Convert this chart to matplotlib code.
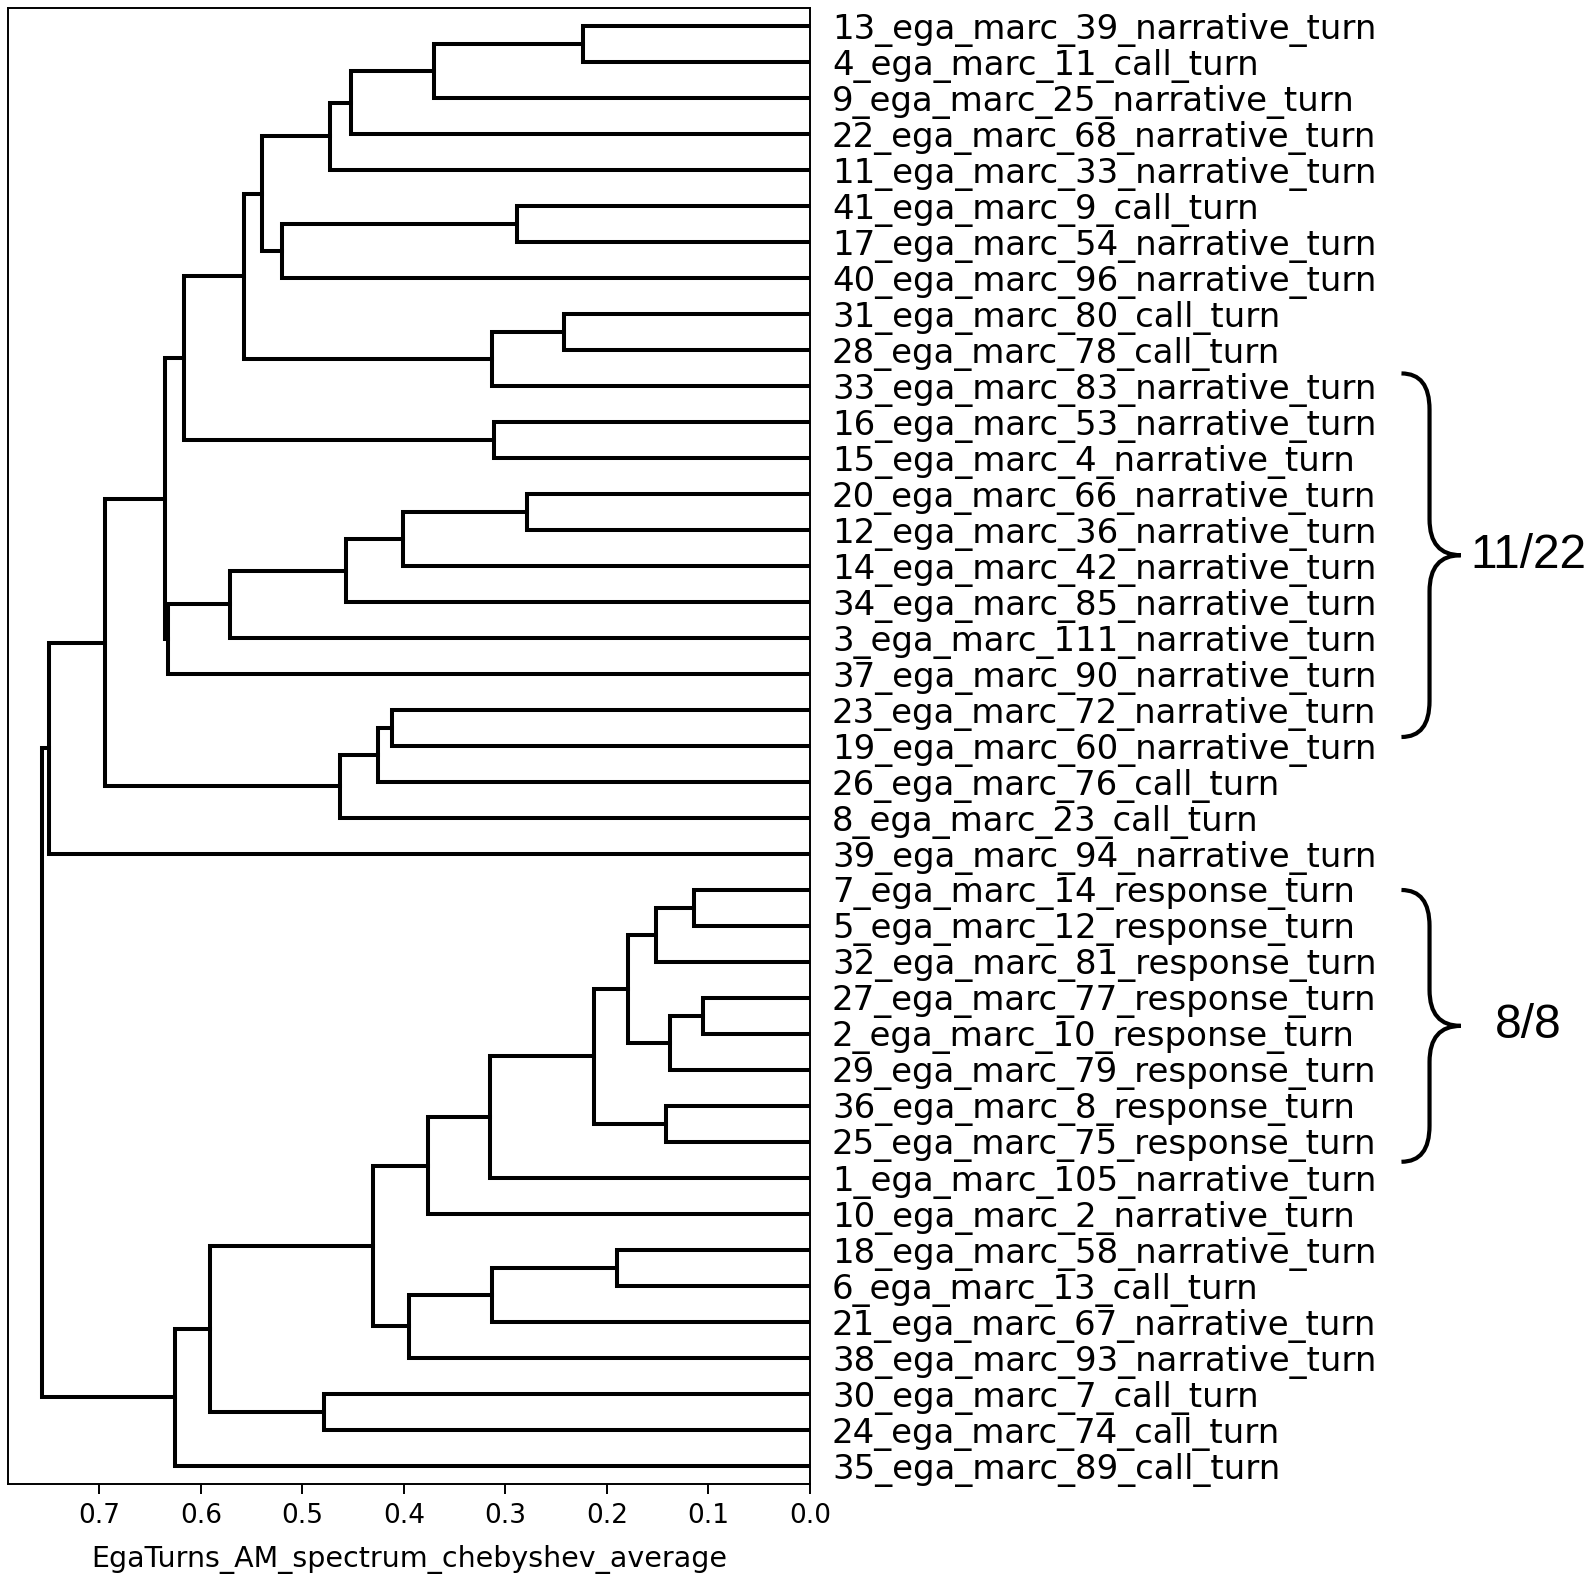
import numpy as np
import matplotlib.pyplot as plt
import matplotlib.transforms as mtransforms
from matplotlib.path import Path
from matplotlib.patches import PathPatch

# leaf labels, top to bottom
labels = [
    '13_ega_marc_39_narrative_turn', '4_ega_marc_11_call_turn',
    '9_ega_marc_25_narrative_turn', '22_ega_marc_68_narrative_turn',
    '11_ega_marc_33_narrative_turn', '41_ega_marc_9_call_turn',
    '17_ega_marc_54_narrative_turn', '40_ega_marc_96_narrative_turn',
    '31_ega_marc_80_call_turn', '28_ega_marc_78_call_turn',
    '33_ega_marc_83_narrative_turn', '16_ega_marc_53_narrative_turn',
    '15_ega_marc_4_narrative_turn', '20_ega_marc_66_narrative_turn',
    '12_ega_marc_36_narrative_turn', '14_ega_marc_42_narrative_turn',
    '34_ega_marc_85_narrative_turn', '3_ega_marc_111_narrative_turn',
    '37_ega_marc_90_narrative_turn', '23_ega_marc_72_narrative_turn',
    '19_ega_marc_60_narrative_turn', '26_ega_marc_76_call_turn',
    '8_ega_marc_23_call_turn', '39_ega_marc_94_narrative_turn',
    '7_ega_marc_14_response_turn', '5_ega_marc_12_response_turn',
    '32_ega_marc_81_response_turn', '27_ega_marc_77_response_turn',
    '2_ega_marc_10_response_turn', '29_ega_marc_79_response_turn',
    '36_ega_marc_8_response_turn', '25_ega_marc_75_response_turn',
    '1_ega_marc_105_narrative_turn', '10_ega_marc_2_narrative_turn',
    '18_ega_marc_58_narrative_turn', '6_ega_marc_13_call_turn',
    '21_ega_marc_67_narrative_turn', '38_ega_marc_93_narrative_turn',
    '30_ega_marc_7_call_turn', '24_ega_marc_74_call_turn',
    '35_ega_marc_89_call_turn',
]

# merges (a, b, distance): ids < 41 are leaves in the order above,
# merge k creates node 41 + k
merges = [
    (0, 1, 0.223), (41, 2, 0.370), (42, 3, 0.452), (43, 4, 0.473),
    (5, 6, 0.288), (45, 7, 0.520), (44, 46, 0.540),
    (8, 9, 0.242), (48, 10, 0.313), (47, 49, 0.557),
    (11, 12, 0.311), (50, 51, 0.617),
    (13, 14, 0.279), (53, 15, 0.401), (54, 16, 0.457), (55, 17, 0.571),
    (56, 18, 0.632), (52, 57, 0.635),
    (19, 20, 0.412), (59, 21, 0.425), (60, 22, 0.463),
    (58, 61, 0.694), (62, 23, 0.750),
    (24, 25, 0.114), (64, 26, 0.151), (27, 28, 0.105), (66, 29, 0.138),
    (65, 67, 0.179), (30, 31, 0.142), (68, 69, 0.213), (70, 32, 0.315),
    (71, 33, 0.376), (34, 35, 0.190), (73, 36, 0.313), (74, 37, 0.395),
    (72, 75, 0.430), (38, 39, 0.479), (76, 77, 0.591), (78, 40, 0.625),
    (63, 79, 0.756),
]

x_ticks = [0.0, 0.1, 0.2, 0.3, 0.4, 0.5, 0.6, 0.7]
x_label = 'EgaTurns_AM_spectrum_chebyshev_average'

# bracket groups: (top, bottom) in dendrogram y units, and the text
brace_spans = [(308.5, 207.5), (165.0, 89.5)]
brace_texts = ['11/22', '8/8']

fig = plt.figure(figsize=(15.94, 15.78), dpi=100)
ax = fig.add_axes([0.005, 0.0596, 0.503, 0.9353])

n = len(labels)
pos = {i: 10 * (n - 1 - i) + 5 for i in range(n)}
height = {i: 0.0 for i in range(n)}
for k, (a, b, d) in enumerate(merges):
    ya, yb = pos[a], pos[b]
    ax.plot([height[a], d, d, height[b]], [ya, ya, yb, yb],
            color='black', lw=2.9, solid_joinstyle='miter')
    pos[n + k] = (ya + yb) / 2
    height[n + k] = d

ax.set_xlim(0.79, 0)
ax.set_ylim(0, 10 * n)
ax.set_yticks([pos[i] for i in range(n)])
ax.set_yticklabels(labels)
ax.yaxis.tick_right()
ax.tick_params(axis='y', length=0, pad=16, labelsize=24.5)
ax.set_xticks(x_ticks)
ax.set_xticklabels(['%.1f' % v for v in x_ticks])
ax.tick_params(axis='x', length=7, width=1.4, pad=7, labelsize=19)
ax.set_xlabel(x_label, fontsize=20.5, labelpad=11)
for s in ax.spines.values():
    s.set_linewidth(1.4)

# curly braces to the right of the labels
trans = mtransforms.blended_transform_factory(ax.transAxes, ax.transData)
xl, xv, xt = 1.738, 1.773, 1.812
r = 10
for (y0, y1), txt in zip(brace_spans, brace_texts):
    ym = (y0 + y1) / 2
    verts = [(xl, y0), (xv, y0), (xv, y0 - r), (xv, ym + r), (xv, ym), (xt, ym),
             (xv, ym), (xv, ym - r), (xv, y1 + r), (xv, y1), (xl, y1)]
    codes = [Path.MOVETO, Path.CURVE3, Path.CURVE3, Path.LINETO, Path.CURVE3, Path.CURVE3,
             Path.CURVE3, Path.CURVE3, Path.LINETO, Path.CURVE3, Path.CURVE3]
    ax.add_patch(PathPatch(Path(verts, codes), transform=trans, fill=False,
                           lw=3, color='black', clip_on=False))
    ax.text(1.896, ym, txt, transform=trans, ha='center', va='center',
            fontsize=34.5, family='Liberation Sans', clip_on=False)

fig.savefig('out.png', dpi=100)
